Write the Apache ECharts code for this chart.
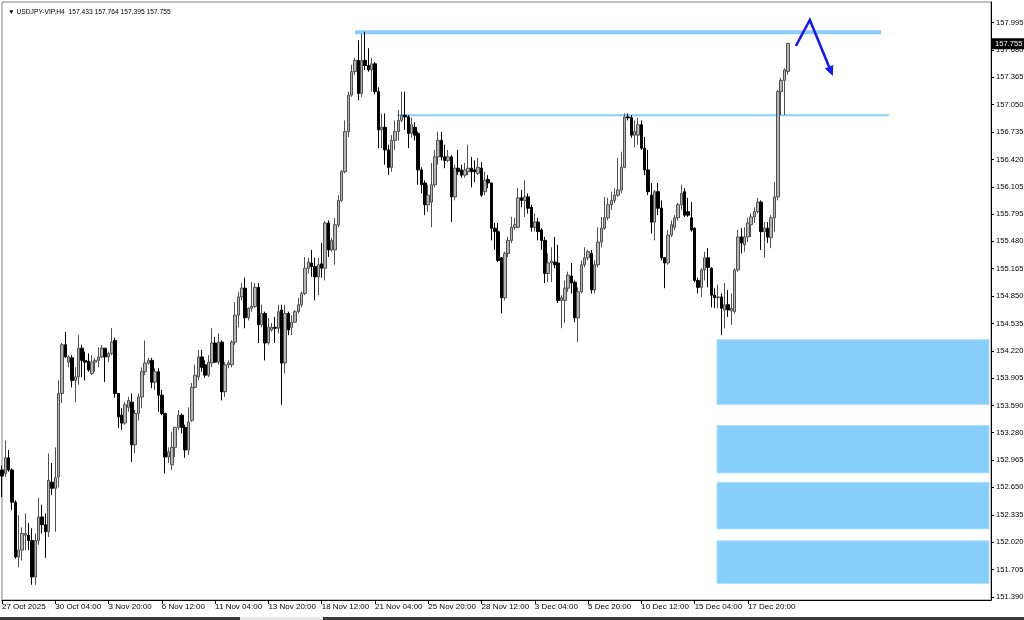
<!DOCTYPE html>
<html>
<head>
<meta charset="utf-8">
<script src="https://cdn.jsdelivr.net/npm/echarts@6/dist/echarts.min.js"></script>
<style>
html,body{margin:0;padding:0;background:#fff;}
#chart{width:1024px;height:620px;}
</style>
</head>
<body>
<div id="chart"></div>
<script>
// ---------- DATA ----------
const symbolTitle = '\u25BC USDJPY-VIP,H4  157.433 157.764 157.395 157.755';

const xTickLabels = ['27 Oct 2025','30 Oct 04:00','3 Nov 20:00','6 Nov 12:00','11 Nov 04:00','13 Nov 20:00',
  '18 Nov 12:00','21 Nov 04:00','25 Nov 20:00','28 Nov 12:00','3 Dec 04:00','5 Dec 20:00',
  '10 Dec 12:00','15 Dec 04:00','17 Dec 20:00'];
const barsPerLabel = 16;
const slotCount = 298; // bar slots across the visible chart width (incl. empty right part)

const yTickValues = [151.390,151.705,152.020,152.335,152.650,152.965,153.280,153.590,153.905,154.220,
  154.535,154.850,155.165,155.480,155.795,156.105,156.420,156.735,157.050,157.365,157.680,157.995];

const opens = [152.85,152.81,152.99,152.85,152.48,151.85,151.93,152.10,152.10,152.04,151.62,152.04,152.31,152.22,152.14,152.71,152.64,152.77,153.73,154.29,
154.09,154.14,153.88,153.92,154.25,154.11,154.10,153.96,154.09,154.11,154.15,154.25,154.15,154.19,154.34,153.73,153.48,153.39,153.57,153.63,
153.14,153.50,153.69,153.98,154.08,154.11,153.86,153.98,153.71,153.50,153.00,152.91,153.11,153.34,153.48,153.34,153.08,153.42,153.80,153.92,
154.15,154.06,153.94,154.08,154.31,154.09,154.32,153.75,154.06,154.06,154.32,154.63,154.84,154.94,154.60,154.71,154.73,154.95,154.52,154.65,
154.31,154.46,154.49,154.48,154.69,154.08,154.65,154.49,154.55,154.67,154.75,154.88,155.17,155.23,155.19,155.07,155.22,155.17,155.69,155.38,
155.38,155.67,155.95,156.28,156.74,157.16,157.43,157.56,157.18,157.56,157.50,157.45,157.52,157.20,156.76,156.79,156.53,156.33,156.64,156.74,
156.87,156.93,156.91,156.72,156.79,156.72,156.30,156.15,155.90,155.93,156.13,156.45,156.64,156.45,156.41,156.45,155.99,156.32,156.30,156.24,
156.28,156.32,156.30,156.26,156.32,156.05,156.19,156.15,155.63,155.59,155.29,154.83,155.34,155.49,155.64,155.64,155.98,155.95,155.99,155.87,
155.64,155.70,155.61,155.49,155.11,155.23,155.24,155.23,154.80,154.80,154.94,155.08,155.01,154.60,154.90,155.21,155.29,155.34,154.92,155.21,
155.47,155.63,155.75,155.90,155.95,156.01,156.07,156.33,156.91,156.90,156.70,156.70,156.82,156.55,156.30,156.01,155.70,156.05,155.86,155.29,
155.23,155.55,155.64,155.75,155.90,156.05,155.82,155.75,155.63,155.03,154.95,155.15,155.29,155.17,154.86,154.83,154.84,154.69,154.75,154.68,
154.67,155.15,155.53,155.44,155.53,155.67,155.76,155.82,155.93,155.59,155.63,155.52,155.75,155.99,157.20,157.33,157.433];

const closes = [152.78,152.99,152.85,152.48,151.85,151.93,152.12,152.12,152.04,151.62,152.04,152.31,152.22,152.14,152.73,152.64,152.76,153.73,154.29,154.15,
154.15,153.88,153.92,154.25,154.11,154.09,154.00,154.09,154.11,154.15,154.25,154.15,154.19,154.32,153.73,153.46,153.39,153.60,153.65,153.14,
153.50,153.69,153.98,154.08,154.11,153.86,153.98,153.71,153.50,153.00,153.06,153.11,153.34,153.48,153.34,153.08,153.40,153.80,153.94,154.15,
154.03,153.94,154.09,154.31,154.09,154.32,153.75,154.06,154.08,154.32,154.63,154.84,154.94,154.60,154.71,154.73,154.95,154.52,154.65,154.31,
154.49,154.49,154.48,154.67,154.08,154.65,154.46,154.55,154.67,154.75,154.88,155.17,155.24,155.19,155.07,155.21,155.17,155.69,155.38,155.49,
155.67,155.95,156.28,156.74,157.16,157.43,157.56,157.18,157.56,157.50,157.45,157.52,157.20,156.76,156.79,156.53,156.33,156.64,156.74,156.87,
156.93,156.91,156.72,156.82,156.70,156.30,156.13,155.90,156.01,156.13,156.45,156.64,156.45,156.41,156.45,155.99,156.32,156.28,156.24,156.30,
156.32,156.28,156.28,156.33,156.01,156.18,156.15,155.63,155.59,155.26,154.83,155.34,155.49,155.64,155.67,155.98,155.95,155.99,155.86,155.64,
155.70,155.59,155.49,155.11,155.23,155.25,155.21,154.80,154.83,154.94,155.09,155.00,154.60,154.90,155.21,155.29,155.36,154.92,155.21,155.47,
155.63,155.75,155.90,155.95,156.01,156.07,156.33,156.91,156.90,156.70,156.74,156.82,156.55,156.30,156.05,155.70,156.05,155.86,155.29,155.23,
155.55,155.67,155.75,155.90,156.03,155.78,155.78,155.61,155.03,154.95,155.15,155.29,155.18,154.86,154.83,154.84,154.71,154.75,154.69,154.71,
155.15,155.53,155.46,155.53,155.69,155.76,155.82,155.93,155.59,155.63,155.53,155.75,155.99,157.20,157.33,157.45,157.755];

const lows = [152.54,152.77,152.83,152.39,151.83,151.73,151.81,151.93,151.93,151.53,151.53,151.99,152.12,151.84,152.08,152.56,152.14,152.65,153.62,154.14,
154.03,153.80,153.63,153.83,153.92,153.88,153.98,153.94,153.98,154.03,154.14,153.86,154.09,154.17,153.68,153.33,153.31,153.37,153.52,152.94,
153.04,153.42,153.56,153.94,154.06,153.79,153.77,153.52,153.48,152.81,152.93,152.85,153.00,153.31,153.27,152.99,153.02,153.40,153.79,153.88,
153.98,153.91,153.92,154.03,154.08,154.06,153.65,153.69,154.02,154.03,154.29,154.49,154.80,154.48,154.57,154.67,154.71,154.31,154.49,154.11,
154.29,154.44,154.31,154.42,153.60,153.96,154.40,154.40,154.54,154.65,154.72,154.86,155.11,155.07,154.80,154.86,155.06,155.03,155.30,155.36,
155.21,155.64,155.93,156.26,156.68,157.14,157.39,157.10,157.14,157.45,157.43,157.20,157.17,156.55,156.55,156.36,156.24,156.28,156.53,156.64,
156.85,156.76,156.55,156.67,156.64,156.13,156.03,155.78,155.82,155.64,156.10,156.36,156.41,156.32,156.39,155.70,155.95,156.24,156.21,156.21,
156.24,156.10,156.16,156.24,155.99,156.01,156.09,155.49,155.38,155.24,154.65,154.80,155.30,155.46,155.61,155.63,155.87,155.76,155.80,155.59,
155.59,155.49,155.38,155.00,155.01,155.01,155.17,154.77,154.48,154.54,154.90,154.88,154.55,154.32,154.88,155.18,155.26,154.88,154.88,155.18,
155.41,155.61,155.72,155.84,155.92,155.99,156.03,156.32,156.87,156.67,156.56,156.59,156.53,156.24,156.01,155.57,155.49,155.78,155.26,154.94,
155.21,155.53,155.61,155.72,155.84,155.76,155.76,155.59,155.01,154.88,154.84,155.03,154.95,154.72,154.71,154.71,154.40,154.48,154.61,154.52,
154.65,155.13,155.34,155.36,155.47,155.53,155.69,155.80,155.38,155.29,155.46,155.40,155.59,155.95,156.93,156.93,157.395];

const highs = [152.90,153.19,153.08,152.87,152.50,152.33,152.19,152.35,152.24,152.18,152.12,152.53,152.45,152.35,153.04,152.93,153.11,153.88,154.31,154.44,
154.17,154.17,154.03,154.40,154.29,154.21,154.19,154.17,154.14,154.26,154.29,154.25,154.21,154.48,154.37,153.73,153.56,153.63,153.69,153.73,
153.54,153.73,154.03,154.34,154.14,154.14,154.02,154.02,153.77,153.50,153.11,153.29,153.34,153.54,153.50,153.37,153.57,153.85,154.06,154.23,
154.23,154.11,154.17,154.48,154.38,154.42,154.34,154.09,154.11,154.34,154.78,154.90,155.00,155.06,154.72,155.01,155.00,155.00,154.75,154.67,
154.60,154.54,154.61,154.75,154.75,154.75,154.67,154.63,154.69,154.83,154.90,155.30,155.29,155.38,155.29,155.29,155.46,155.71,155.72,155.52,
155.75,156.01,156.30,156.87,157.20,157.51,157.59,157.79,157.87,157.89,157.70,157.59,157.54,157.25,156.95,156.95,156.59,156.70,156.87,156.99,
157.20,157.20,156.93,156.90,156.85,156.74,156.33,156.18,156.13,156.38,156.53,156.74,156.74,156.59,156.53,156.47,156.36,156.53,156.36,156.38,
156.59,156.45,156.41,156.44,156.39,156.28,156.24,156.15,155.69,155.69,155.30,155.36,155.53,155.76,155.75,156.09,156.07,156.18,156.03,155.90,
155.80,155.75,155.63,155.53,155.34,155.41,155.53,155.44,154.86,155.03,155.13,155.23,155.03,154.95,155.26,155.41,155.38,155.38,155.26,155.64,
155.76,155.99,155.98,156.05,156.09,156.44,156.51,156.95,156.95,156.93,156.87,156.90,156.87,156.68,156.53,156.15,156.07,156.15,155.95,155.30,
155.61,155.72,155.78,155.92,156.13,156.09,155.98,155.93,155.64,155.06,155.17,155.36,155.40,155.18,154.94,154.98,154.88,155.00,154.92,154.88,
155.17,155.61,155.63,155.64,155.75,155.80,155.87,155.98,155.95,155.70,155.70,155.78,156.16,157.22,157.36,157.47,157.764];

const lastPrice = 157.755;

// drawn objects (bar-slot index, price)
const resistanceHigh = { from: 106, to: 264, price: 157.882 };
const resistanceLow  = { from: 118.6, to: 266.4, price: 156.929 };
const zoneStart = 214.7, zoneEnd = 296.4;
const zoneTops    = [154.350, 153.362, 152.708, 152.036];
const zoneBottoms = [153.602, 152.816, 152.172, 151.545];
const arrowX = [238.4, 242.6, 249.5];
const arrowY = [157.725, 158.024, 157.380];

// ---------- CHART ----------
const categories = Array.from({ length: slotCount }, (_, i) => String(i));
const candleData = opens.map((o, i) => [o, closes[i], lows[i], highs[i]]);
const zoneData = zoneTops.map((t, i) => [zoneStart, zoneEnd, t, zoneBottoms[i]]);
const FONT = 'Liberation Sans';
const isLabelIdx = (idx) => idx % barsPerLabel === 0 && idx / barsPerLabel < xTickLabels.length;

const chart = echarts.init(document.getElementById('chart'), null, { renderer: 'canvas' });
chart.setOption({
  animation: false,
  backgroundColor: '#ffffff',
  textStyle: { fontFamily: FONT },
  title: {
    text: symbolTitle, left: 3, top: 4,
    textStyle: { fontSize: 6.7, fontWeight: 'normal', color: '#000', fontFamily: FONT }
  },
  grid: { left: 2, right: 33, top: 2, bottom: 20, outerBoundsMode: 'none', containLabel: false,
    show: true, borderColor: '#808080', borderWidth: 1, backgroundColor: '#fff' },
  xAxis: [{
    type: 'category', data: categories, boundaryGap: false,
    axisLine: { onZero: false, lineStyle: { color: '#000', width: 1 } },
    axisTick: { show: true, interval: (idx) => isLabelIdx(idx), length: 4, lineStyle: { color: '#000' } },
    axisLabel: {
      interval: (idx) => isLabelIdx(idx),
      formatter: (v, idx) => xTickLabels[idx / barsPerLabel] || '',
      align: 'left', fontSize: 8, color: '#000', margin: 3, padding: [0, 0, 0, 0], fontFamily: FONT
    },
    splitLine: { show: false }
  }, {
    type: 'value', min: 0, max: slotCount - 1, show: false, gridIndex: 0,
    axisLine: { onZero: false }
  }],
  yAxis: [{
    type: 'value', position: 'right', min: 151.355, max: 158.231, scale: true,
    axisLine: { show: true, onZero: false, lineStyle: { color: '#000' } },
    axisTick: { show: true, inside: false, length: 3, customValues: yTickValues, lineStyle: { color: '#000' } },
    axisLabel: { customValues: yTickValues, formatter: (v) => v.toFixed(3), fontSize: 7.6, color: '#000', margin: 5, fontFamily: FONT },
    splitLine: { show: false }
  }],
  series: [
    {
      type: 'custom', name: 'zones', xAxisIndex: 1, yAxisIndex: 0, z: 1,
      data: zoneData,
      encode: { x: [0, 1], y: [2, 3] },
      renderItem: (params, api) => {
        const p0 = api.coord([api.value(0), api.value(2)]);
        const p1 = api.coord([api.value(1), api.value(3)]);
        return { type: 'rect', shape: { x: p0[0], y: p0[1], width: p1[0] - p0[0], height: p1[1] - p0[1] },
          style: { fill: '#87CEFA', stroke: '#b3dffb', lineWidth: 1 } };
      }
    },
    {
      type: 'line', name: 'res1', xAxisIndex: 1, yAxisIndex: 0, symbol: 'none', z: 1,
      data: [[resistanceHigh.from, resistanceHigh.price], [resistanceHigh.to, resistanceHigh.price]],
      lineStyle: { color: '#87CEFA', width: 4 }
    },
    {
      type: 'line', name: 'res2', xAxisIndex: 1, yAxisIndex: 0, symbol: 'none', z: 1,
      data: [[resistanceLow.from, resistanceLow.price], [resistanceLow.to, resistanceLow.price]],
      lineStyle: { color: '#87CEFA', width: 2 }
    },
    {
      type: 'candlestick', name: 'USDJPY', xAxisIndex: 0, yAxisIndex: 0, z: 3,
      data: candleData, barWidth: 3,
      itemStyle: { color: '#b4b4b4', color0: '#000000', borderColor: '#505050', borderColor0: '#000000', borderWidth: 1 },
      markLine: {
        silent: true, symbol: 'none', animation: false,
        lineStyle: { color: 'rgba(0,0,0,0)', width: 0 },
        label: { show: true, position: 'end', formatter: lastPrice.toFixed(3), backgroundColor: '#000', color: '#fff',
          fontSize: 7.6, padding: [2, 3, 1, 3], distance: 1, fontFamily: FONT },
        data: [{ yAxis: lastPrice }]
      }
    },
    {
      type: 'custom', name: 'arrow', xAxisIndex: 1, yAxisIndex: 0, z: 4, clip: false,
      data: [[arrowX[0], arrowY[0]]],
      renderItem: (params, api) => {
        const pts = arrowX.map((x, i) => api.coord([x, arrowY[i]]));
        const tip = pts[2], prev = pts[1];
        const dx = tip[0] - prev[0], dy = tip[1] - prev[1];
        const len = Math.sqrt(dx * dx + dy * dy);
        const ux = dx / len, uy = dy / len;
        const hl = 10, hw = 4.5;
        const base = [tip[0] - ux * hl, tip[1] - uy * hl];
        const left = [base[0] - uy * hw, base[1] + ux * hw];
        const right = [base[0] + uy * hw, base[1] - ux * hw];
        return { type: 'group', children: [
          { type: 'polyline', shape: { points: [pts[0], pts[1], [tip[0] - ux * 4, tip[1] - uy * 4]] },
            style: { stroke: '#1414ff', lineWidth: 2.5, fill: null } },
          { type: 'polygon', shape: { points: [tip, left, right] }, style: { fill: '#1414ff' } }
        ] };
      }
    }
  ],
  graphic: [
    { type: 'rect', shape: { x: 0, y: 617, width: 1024, height: 3 }, style: { fill: '#3a3a3a' }, silent: true },
    { type: 'rect', shape: { x: 240, y: 617, width: 83, height: 3 }, style: { fill: '#e6e6e6' }, silent: true }
  ]
});
</script>
</body>
</html>
